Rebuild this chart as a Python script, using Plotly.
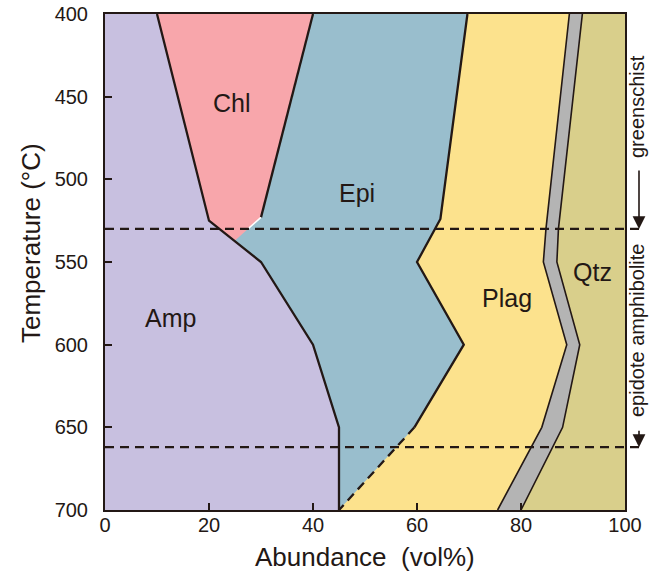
import plotly.graph_objects as go

# ---------------- data ----------------
# Temperature breakpoints (°C) and cumulative abundance boundaries (vol%)
amp_T = [400, 525, 550, 600, 650, 700]
amp_x = [10, 20, 30, 40, 45, 45]            # Amp | Chl/Epi boundary

chl_x = [10, 40, 30, 25, 20]                # Chl polygon
chl_T = [400, 400, 523, 537, 525]

epi_T = [400, 524, 550, 600, 650, 700]
epi_x = [69.7, 64.5, 60, 69, 59.5, 45]      # Epi | Plag boundary

plag_T = [400, 530, 550, 600, 650, 700]
plag_x = [89.3, 84.8, 84.3, 88.8, 84, 75.5]  # Plag | grey band
grey_x = [91.8, 87.2, 86.9, 91.3, 88, 80]    # grey band | Qtz

facies_T = [530, 662]                        # facies boundaries
facies_names = ["greenschist", "epidote amphibolite"]

x_ticks = [0, 20, 40, 60, 80, 100]
y_ticks = [400, 450, 500, 550, 600, 650, 700]

phase_names = ["Chl", "Epi", "Amp", "Plag", "Qtz"]
phase_x = [24.4, 48.5, 12.5, 77.3, 93.7]
phase_T = [454, 508, 584, 572, 556]

# ---------------- styles ----------------
C_AMP = "#C8C0E0"
C_CHL = "#F8A6AB"
C_EPI = "#99BECD"
C_PLAG = "#FCE28D"
C_GREY = "#B4B4B4"
C_QTZ = "#D9CF8B"
INK = "#231815"
FONT = "Liberation Sans, Arial, Helvetica, sans-serif"

fig = go.Figure()


def area(bx, bT, color):
    fig.add_trace(go.Scatter(
        x=[0] + list(bx) + [0], y=[bT[0]] + list(bT) + [bT[-1]],
        fill="toself", fillcolor=color, mode="lines",
        line=dict(width=0, color=color), hoverinfo="skip", showlegend=False))


# Qtz background (whole plot)
area([100, 100], [400, 700], C_QTZ)
area(grey_x, plag_T, C_GREY)
area(plag_x, plag_T, C_PLAG)
area(epi_x, epi_T, C_EPI)
area(amp_x, amp_T, C_AMP)
fig.add_trace(go.Scatter(x=chl_x, y=chl_T, fill="toself", fillcolor=C_CHL,
                         mode="lines", line=dict(width=0, color=C_CHL),
                         hoverinfo="skip", showlegend=False))


def line(xs, ys, width=2.3, color=INK, dash="solid"):
    fig.add_trace(go.Scatter(x=xs, y=ys, mode="lines",
                             line=dict(width=width, color=color, dash=dash),
                             hoverinfo="skip", showlegend=False))


line(amp_x, amp_T)
line(chl_x[1:3], chl_T[1:3])
line([chl_x[2], (chl_x[2] + chl_x[3]) / 2], [chl_T[2], (chl_T[2] + chl_T[3]) / 2],
     width=1.5, color="white")
line(epi_x[:5], epi_T[:5])
line(epi_x[4:], epi_T[4:], dash="9px,6px")
line(plag_x, plag_T, width=1.6)
line(grey_x, plag_T, width=1.6)

# facies dashed lines (extend beyond the right frame)
for t in facies_T:
    fig.add_shape(type="line", xref="paper", yref="y", x0=0, x1=1.036,
                  y0=t, y1=t, line=dict(color=INK, width=2.2, dash="9px,6px"),
                  layer="above")

# phase labels
for name, px, pt in zip(phase_names, phase_x, phase_T):
    fig.add_annotation(x=px, y=pt, text=name, showarrow=False,
                       xanchor="center", yanchor="middle",
                       font=dict(size=25, color=INK, family=FONT))

# facies annotations on the right
XR = (637 - 105) / 520
fig.add_annotation(xref="paper", yref="paper", x=XR, y=(510 - 107) / 496,
                   text=facies_names[0], textangle=-90, showarrow=False,
                   xanchor="center", yanchor="middle",
                   font=dict(size=20, color=INK, family=FONT))
fig.add_annotation(xref="paper", yref="paper", x=XR, y=(510 - 331) / 496,
                   text=facies_names[1], textangle=-90, showarrow=False,
                   xanchor="center", yanchor="middle",
                   font=dict(size=20, color=INK, family=FONT))
XA = (639 - 105) / 520
fig.add_annotation(xref="paper", yref="y", x=XA, y=facies_T[0], text="",
                   showarrow=True, ax=0, ay=-60, arrowhead=2, arrowsize=1.6,
                   arrowwidth=1.6, arrowcolor=INK)
fig.add_annotation(xref="paper", yref="y", x=XA, y=facies_T[1], text="",
                   showarrow=True, ax=0, ay=-18, arrowhead=2, arrowsize=1.6,
                   arrowwidth=1.6, arrowcolor=INK)

# axis titles
fig.add_annotation(xref="paper", yref="paper", x=(31 - 105) / 520,
                   y=(510 - 243) / 496, text="Temperature (°C)", textangle=-90,
                   showarrow=False, xanchor="center", yanchor="middle",
                   font=dict(size=26, color=INK, family=FONT))
fig.add_annotation(xref="paper", yref="paper", x=0.5, y=(510 - 557) / 496,
                   text="Abundance  (vol%)", showarrow=False,
                   xanchor="center", yanchor="middle",
                   font=dict(size=26, color=INK, family=FONT))

axis_common = dict(showgrid=False, zeroline=False, showline=True, mirror=True,
                   linecolor=INK, linewidth=2, ticks="inside", ticklen=7,
                   tickwidth=2, tickcolor=INK, automargin=False,
                   tickfont=dict(size=20, color=INK, family=FONT))
fig.update_xaxes(range=[0, 100], tickvals=x_ticks, ticklabelstandoff=-4,
                 **axis_common)
fig.update_yaxes(range=[700, 400], tickvals=y_ticks, ticklabelstandoff=11,
                 **axis_common)

fig.update_layout(width=649, height=573,
                  margin=dict(l=105, r=24, t=14, b=63, autoexpand=False),
                  plot_bgcolor="white", paper_bgcolor="white",
                  font=dict(family=FONT, color=INK))

fig.write_html("out.html")
